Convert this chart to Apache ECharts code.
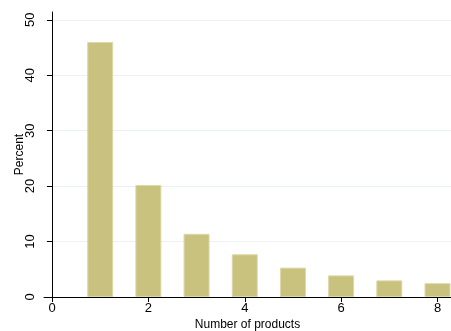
<!DOCTYPE html>
<html>
<head>
<meta charset="utf-8">
<script src="https://cdn.jsdelivr.net/npm/echarts@6/dist/echarts.min.js"></script>
<style>
  html, body { margin: 0; padding: 0; background: #fff; }
  #chart { width: 451px; height: 331px; }
</style>
</head>
<body>
<div id="chart"></div>
<script>
// Distribution of the number of products (percent of firms)
const productCounts = [1, 2, 3, 4, 5, 6, 7, 8];
const percentValues = [46.0, 20.2, 11.4, 7.7, 5.3, 3.9, 3.0, 2.5];
const xTickValues = [0, 2, 4, 6, 8];
const yTickValues = [0, 10, 20, 30, 40, 50];

const font = 'Liberation Sans, Arial, sans-serif';
const chart = echarts.init(document.getElementById('chart'), null, { renderer: 'canvas' });

chart.setOption({
  animation: false,
  backgroundColor: '#ffffff',
  grid: { left: 44, right: 0, top: 12, bottom: 34, containLabel: false, outerBoundsMode: 'none' },
  xAxis: {
    type: 'value',
    min: -0.166,
    max: 8.28,
    name: 'Number of products',
    nameLocation: 'middle',
    nameGap: 22,
    nameMoveOverlap: false,
    nameTextStyle: { color: '#000', fontFamily: font, fontSize: 12 },
    axisLine: { show: true, onZero: false, lineStyle: { color: '#000', width: 1 } },
    axisTick: { show: true, length: 5, lineStyle: { color: '#000' }, customValues: xTickValues },
    axisLabel: { color: '#000', fontFamily: font, fontSize: 13, margin: 5, customValues: xTickValues },
    splitLine: { show: false }
  },
  yAxis: {
    type: 'value',
    min: 0,
    max: 51.4,
    interval: 10,
    name: 'Percent',
    nameLocation: 'middle',
    nameGap: 18,
    nameRotate: 90,
    nameMoveOverlap: false,
    nameTextStyle: { color: '#000', fontFamily: font, fontSize: 12 },
    axisLine: { show: true, lineStyle: { color: '#000', width: 1 } },
    axisTick: { show: true, length: 5, lineStyle: { color: '#000' }, customValues: yTickValues },
    axisLabel: { color: '#000', fontFamily: font, fontSize: 13, rotate: 90, margin: 7, customValues: yTickValues },
    splitLine: { show: true, lineStyle: { color: '#eaf0f3', width: 1 } }
  },
  series: [{
    type: 'bar',
    data: productCounts.map((c, i) => [c, percentValues[i]]),
    barWidth: 26,
    itemStyle: { color: '#c9c27e', borderColor: '#ddd8aa', borderWidth: 1 },
    clip: true
  }]
});
</script>
</body>
</html>
